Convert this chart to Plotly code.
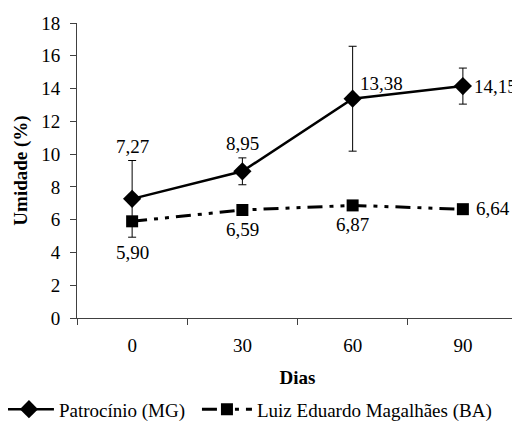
import plotly.graph_objects as go

dias = ["0", "30", "60", "90"]
patrocinio = [7.27, 8.95, 13.38, 14.15]
patrocinio_err = [2.34, 0.82, 3.2, 1.1]
luiz = [5.90, 6.59, 6.87, 6.64]
patrocinio_lbl = ["7,27", "8,95", "13,38", "14,15"]
luiz_lbl = ["5,90", "6,59", "6,87", "6,64"]
y_ticks = [0, 2, 4, 6, 8, 10, 12, 14, 16, 18]

FONT = "Liberation Serif, Times New Roman, serif"
FS = 19
AX = "#404040"

fig = go.Figure()
fig.add_trace(go.Scatter(
    x=dias, y=patrocinio, name="Patrocínio (MG)",
    mode="lines+markers", legend="legend",
    line=dict(color="black", width=2.5),
    marker=dict(symbol="diamond", size=14, color="black"),
    error_y=dict(type="data", array=patrocinio_err, visible=True,
                 color="black", thickness=1, width=4),
))
fig.add_trace(go.Scatter(
    x=dias, y=luiz, name="Luiz Eduardo Magalhães (BA)",
    mode="lines+markers", legend="legend2",
    line=dict(color="black", width=3, dash="15px,7px,4px,7px,4px,7px"),
    marker=dict(symbol="square", size=12, color="black"),
))

# data labels (x given as category index)
p_style = [
    dict(above_err=True, xanchor="center", xshift=0, yshift=2),
    dict(above_err=True, xanchor="center", xshift=0, yshift=2),
    dict(above_err=False, xanchor="left", xshift=5, yshift=15),
    dict(above_err=False, xanchor="left", xshift=9, yshift=0),
]
for i in range(len(dias)):
    s = p_style[i]
    yv = patrocinio[i] + patrocinio_err[i] if s["above_err"] else patrocinio[i]
    fig.add_annotation(x=i, y=yv, text=patrocinio_lbl[i], showarrow=False,
                       xanchor=s["xanchor"],
                       yanchor="bottom" if s["above_err"] else "middle",
                       xshift=s["xshift"], yshift=s["yshift"],
                       font=dict(family=FONT, size=FS, color="black"))
l_style = [
    dict(xanchor="center", xshift=0, yshift=-31),
    dict(xanchor="center", xshift=0, yshift=-19),
    dict(xanchor="center", xshift=0, yshift=-19),
    dict(xanchor="left", xshift=11, yshift=1),
]
for i in range(len(dias)):
    s = l_style[i]
    fig.add_annotation(x=i, y=luiz[i], text=luiz_lbl[i], showarrow=False,
                       xanchor=s["xanchor"], yanchor="middle",
                       xshift=s["xshift"], yshift=s["yshift"],
                       font=dict(family=FONT, size=FS, color="black"))

legend_common = dict(orientation="h", xanchor="left", y=-0.245, yanchor="top",
                     font=dict(family=FONT, size=FS, color="black"),
                     itemwidth=50, tracegroupgap=0, bgcolor="rgba(0,0,0,0)")

fig.update_layout(
    width=512, height=413,
    margin=dict(l=69, r=2, t=15, b=103, autoexpand=False),
    paper_bgcolor="white", plot_bgcolor="white",
    font=dict(family=FONT, size=FS, color="black"),
    showlegend=True,
    legend=dict(x=-0.177, **legend_common),
    legend2=dict(x=0.272, **legend_common),
    xaxis=dict(
        type="category", range=[-0.5, 3.5], automargin=False,
        showline=True, linecolor=AX, linewidth=1,
        ticks="outside", tickson="boundaries", ticklen=6, tickcolor=AX,
        ticklabelstandoff=10,
        showgrid=False, zeroline=False,
        tickfont=dict(family=FONT, size=FS, color="black"),
        title=dict(text="<b>Dias</b>", font=dict(family=FONT, size=FS, color="black"), standoff=15),
    ),
    yaxis=dict(
        range=[0, 18], tickvals=y_ticks, automargin=False,
        showline=True, linecolor=AX, linewidth=1,
        ticks="outside", ticklen=6, tickcolor=AX,
        ticklabelstandoff=6,
        showgrid=False, zeroline=False,
        tickfont=dict(family=FONT, size=FS, color="black"),
        title=dict(text="<b>Umidade (%)</b>", font=dict(family=FONT, size=FS, color="black"), standoff=8),
    ),
)

fig.write_html("out.html")
